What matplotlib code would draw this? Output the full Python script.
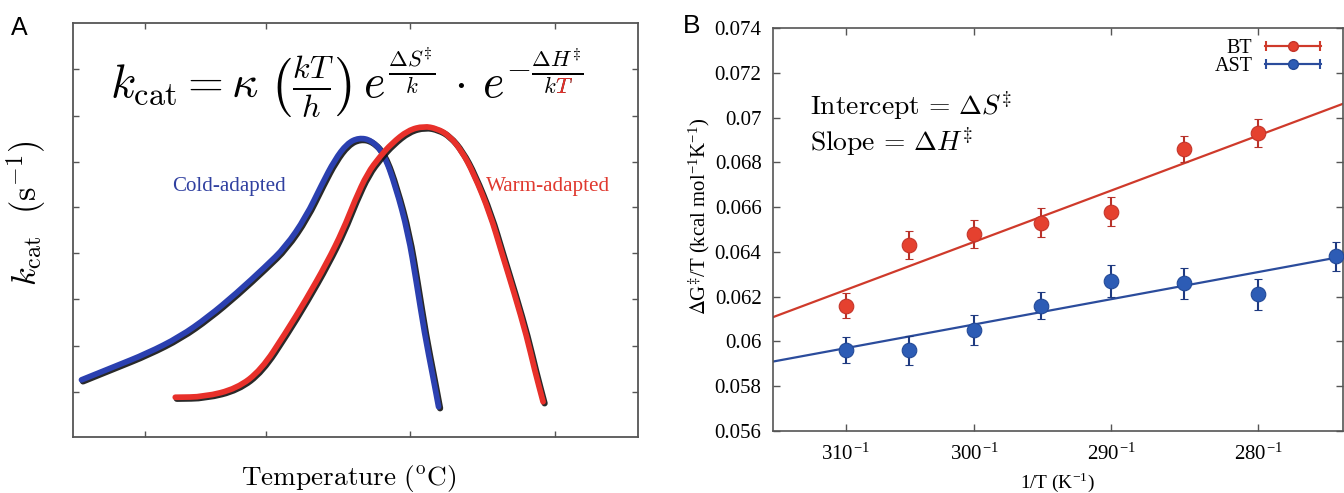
import numpy as np
import matplotlib
matplotlib.use("Agg")
import matplotlib.pyplot as plt
from matplotlib.font_manager import FontProperties
from matplotlib.textpath import TextToPath
from matplotlib.mathtext import MathTextParser
from matplotlib.transforms import ScaledTranslation, IdentityTransform
from matplotlib.legend_handler import HandlerErrorbar
from matplotlib.container import ErrorbarContainer
from matplotlib.path import Path
from matplotlib.patches import PathPatch, Rectangle
import warnings
warnings.filterwarnings("ignore")

# ---------------- Panel A data (schematic, arbitrary units) ----------------
cold_temp = [1.5, 7.3, 13.1, 18.9, 23.9, 28.9, 34.0, 37.6, 41.2, 44.1, 46.3,
             48.5, 50.6, 52.8, 55.0, 57.1, 59.3, 60.8, 62.2, 63.7, 64.7]
cold_kcat = [13.8, 17.0, 20.2, 24.2, 29.0, 34.7, 41.1, 45.9, 53.1, 61.2, 66.9,
             70.9, 72.3, 71.7, 68.5, 60.5, 49.3, 37.2, 25.1, 14.6, 7.3]
warm_temp = [18.1, 23.2, 29.0, 33.3, 37.6, 41.2, 44.9, 47.8, 49.9, 52.1, 54.3,
             56.4, 59.3, 62.1, 64.4, 66.5, 68.7, 70.9, 73.8, 75.9, 78.1, 80.3,
             81.7, 83.2]
warm_kcat = [9.6, 9.7, 11.7, 16.2, 25.1, 33.1, 42.0, 50.0, 57.2, 63.7, 67.7,
             70.9, 74.1, 75.1, 74.5, 72.9, 69.3, 63.7, 54.0, 44.4, 34.7, 24.3,
             16.2, 8.5]
a_xticks = [12.7, 34.2, 59.6, 85.3]
a_yticks = [10.9, 22.0, 33.3, 44.4, 55.6, 66.4, 77.6, 88.8]

# ---------------- Panel B data ----------------
bt_T = [310, 305, 300, 295, 290, 285, 280]
bt_val = [0.0616, 0.0643, 0.0648, 0.0653, 0.0658, 0.0686, 0.0693]
bt_err = [0.00055, 0.00063, 0.00062, 0.00065, 0.00065, 0.00057, 0.00063]
ast_T = [310, 305, 300, 295, 290, 285, 280, 275]
ast_val = [0.0596, 0.0596, 0.0605, 0.0616, 0.0627, 0.0626, 0.0621, 0.0638]
ast_err = [0.00058, 0.00063, 0.00068, 0.00060, 0.00071, 0.00070, 0.00070, 0.00065]
bt_fit_T = [310, 280]
bt_fit_val = [0.0623, 0.0692]
ast_fit_T = [310, 280]
ast_fit_val = [0.0597, 0.0631]
b_xtick_T = [310, 300, 290, 280]
b_xtick_labels = [r"310$^{\mathregular{-1}}$", r"300$^{\mathregular{-1}}$",
                  r"290$^{\mathregular{-1}}$", r"280$^{\mathregular{-1}}$"]
b_yticks = [0.056, 0.058, 0.060, 0.062, 0.064, 0.066, 0.068, 0.070, 0.072, 0.074]
b_ytick_labels = ["0.056", "0.058", "0.06", "0.062", "0.064", "0.066",
                  "0.068", "0.07", "0.072", "0.074"]
b_xlim = (3.1647e-3, 3.6426e-3)
b_ylim = (0.056, 0.074)

# ---------------- style ----------------
W, H, DPI = 1344, 493, 100
plt.rcParams["font.family"] = ["Liberation Serif", "DejaVu Serif"]
plt.rcParams["mathtext.fontset"] = "cm"

BLUE_A = "#2b40b0"
RED_A = "#e8302a"
RED_B = "#e5412f"
RED_LINE = "#cf3a2b"
RED_ERR = "#b8322a"
BLUE_B = "#2d5cb5"
BLUE_LINE = "#2b4c9c"
BLUE_ERR = "#1f3a80"
SPINE = "#555555"

_ttp = TextToPath()


def fit_fs(s, target_px, family="Liberation Serif", math="cm"):
    prop = FontProperties(family=family, size=10, math_fontfamily=math)
    w, h, d = _ttp.get_text_width_height_descent(s, prop, ismath=("$" in s))
    return 10.0 * (target_px * 72.0 / DPI) / w


def fxp(px):
    return px / W


def fyp(py):
    return 1 - py / H


def smooth_path(xs, ys):
    pts = np.column_stack([xs, ys]).astype(float)
    verts = [pts[0], (pts[0] + pts[1]) / 2]
    codes = [Path.MOVETO, Path.LINETO]
    for i in range(1, len(pts) - 1):
        verts += [pts[i], (pts[i] + pts[i + 1]) / 2]
        codes += [Path.CURVE3, Path.CURVE3]
    verts.append(pts[-1])
    codes.append(Path.LINETO)
    return Path(verts, codes)


fig = plt.figure(figsize=(W / DPI, H / DPI), dpi=DPI)

# ================= Panel A =================
axA = fig.add_axes([fxp(73), fyp(437), (638 - 73) / W, (437 - 23) / H])
axA.set_xlim(0, 100)
axA.set_ylim(0, 100)
for sp in axA.spines.values():
    sp.set_color(SPINE)
    sp.set_linewidth(1.3)
axA.set_xticks(a_xticks)
axA.set_yticks(a_yticks)
axA.tick_params(direction="in", length=4, width=1, color=SPINE,
                top=True, right=True, labelbottom=False, labelleft=False)

shadow_tr = axA.transData + ScaledTranslation(1.1 / 72, -1.1 / 72, fig.dpi_scale_trans)
for xs, ys, col in [(cold_temp, cold_kcat, BLUE_A), (warm_temp, warm_kcat, RED_A)]:
    p = smooth_path(xs, ys)
    axA.add_patch(PathPatch(p, fill=False, ec="#111111", lw=4.5, alpha=0.9,
                            capstyle="round", joinstyle="round", transform=shadow_tr))
    axA.add_patch(PathPatch(p, fill=False, ec=col, lw=4.1,
                            capstyle="round", joinstyle="round"))

s_cold = "Cold-adapted"
s_warm = "Warm-adapted"
fig.text(fxp(229), fyp(187), s_cold, color="#3040a0", ha="center", va="center",
         fontsize=fit_fs(s_cold, 113))
fig.text(fxp(548), fyp(187), s_warm, color="#e0392f", ha="center", va="center",
         fontsize=fit_fs(s_warm, 124))

formula = (r"$k_{\mathrm{cat}} = \kappa\;\left(\frac{kT}{h}\right)\,"
           r"e^{\frac{\Delta S^{\ddagger}}{k}}\,\cdot\,e^{-\frac{\Delta H^{\ddagger}}{kT}}$")
FS_F = fit_fs(formula, 478)
ANCX, ANCY = 110, 97
fig.text(fxp(ANCX), fyp(ANCY), formula, fontsize=FS_F, ha="left", va="baseline",
         math_fontfamily="cm")
# red copy of the formula, clipped to the final (denominator) T only
parser = MathTextParser("path")
res = parser.parse(formula, DPI, FontProperties(size=FS_F, math_fontfamily="cm"))
g = None
for gl in reversed(res.glyphs):
    if gl[2] == ord("T"):
        g = gl
        break
if g is None:
    g = res.glyphs[-1]
fsT_px = g[1] * DPI / 72.0
penx = ANCX + g[3] + 1
basey = (H - ANCY) + g[4]
clip = Rectangle((penx + 0.04 * fsT_px, basey - 0.25 * fsT_px),
                 0.9 * fsT_px, 0.95 * fsT_px, transform=IdentityTransform())
tred = fig.text(fxp(ANCX), fyp(ANCY), formula, fontsize=FS_F, ha="left",
                va="baseline", math_fontfamily="cm", color=RED_A)
tred.set_clip_path(clip)

s_temp = r"$\mathrm{Temperature}\ (^{\mathrm{o}}\mathrm{C})$"
fig.text(fxp(349), fyp(478), s_temp, ha="center", va="center",
         fontsize=fit_fs(s_temp, 216))
s_ylA = r"$k_{\mathrm{cat}}\ \ (\mathrm{s}^{-1})$"
fig.text(fxp(26), fyp(213), s_ylA, ha="center", va="center", rotation=90,
         fontsize=fit_fs(s_ylA, 147))

fig.text(fxp(11), fyp(35), "A", family="Liberation Sans", fontsize=18,
         ha="left", va="baseline")
fig.text(fxp(683), fyp(33), "B", family="Liberation Sans", fontsize=19,
         ha="left", va="baseline")

# ================= Panel B =================
axB = fig.add_axes([fxp(772.7), fyp(431), (1343.3 - 772.7) / W, (431 - 28) / H])
axB.set_xlim(*b_xlim)
axB.set_ylim(*b_ylim)
for sp in axB.spines.values():
    sp.set_color(SPINE)
    sp.set_linewidth(1.2)

tick_fs = fit_fs("0.056", 47)
axB.set_yticks(b_yticks)
axB.set_yticklabels(b_ytick_labels)
axB.set_xticks([1.0 / t for t in b_xtick_T])
axB.set_xticklabels(b_xtick_labels)
axB.tick_params(direction="in", length=5, width=1, color=SPINE, top=True,
                right=True, labelsize=tick_fs, pad=8)
axB.tick_params(axis="x", pad=9)

# fit lines
for fT, fv, col in [(bt_fit_T, bt_fit_val, RED_LINE), (ast_fit_T, ast_fit_val, BLUE_LINE)]:
    coef = np.polyfit([1.0 / t for t in fT], fv, 1)
    xs = np.array(b_xlim)
    axB.plot(xs, np.polyval(coef, xs), color=col, lw=1.6, zorder=2)

axB.errorbar([1.0 / t for t in bt_T], bt_val, yerr=bt_err, fmt="o", ms=10.5,
             mfc=RED_B, mec="#c4352a", mew=0.8, ecolor=RED_ERR, elinewidth=1.5,
             capsize=2.9, capthick=1.5, zorder=3)
axB.errorbar([1.0 / t for t in ast_T], ast_val, yerr=ast_err, fmt="o", ms=10.5,
             mfc=BLUE_B, mec="#234a98", mew=0.8, ecolor=BLUE_ERR, elinewidth=1.5,
             capsize=2.9, capthick=1.5, zorder=3)

# legend proxies (horizontal error-bar style)
h_bt = axB.errorbar([np.nan], [np.nan], xerr=[1.0], fmt="-o", color=RED_LINE,
                    mfc=RED_B, mec="#c4352a", ms=10, lw=1.5, ecolor=RED_LINE,
                    elinewidth=1.5, capsize=3.5, capthick=1.5)
h_ast = axB.errorbar([np.nan], [np.nan], xerr=[1.0], fmt="-o", color=BLUE_LINE,
                     mfc=BLUE_B, mec="#234a98", ms=10, lw=1.5, ecolor=BLUE_LINE,
                     elinewidth=1.5, capsize=3.5, capthick=1.5)
leg_fs = 14.5
axB.legend([h_bt, h_ast], ["BT", "AST"], loc="upper right",
           bbox_to_anchor=(fxp(1321), fyp(39)), bbox_transform=fig.transFigure,
           frameon=False, markerfirst=False, numpoints=1, handlelength=2.8,
           handletextpad=0.6, labelspacing=-0.05, borderpad=0, borderaxespad=0,
           fontsize=leg_fs, markerscale=0.7,
           handler_map={ErrorbarContainer: HandlerErrorbar(xerr_size=1.35)})

s_int = r"$\mathrm{Intercept}\,=\,\Delta S^{\ddagger}$"
s_slope = r"$\mathrm{Slope}\,=\,\Delta H^{\ddagger}$"
fs_int = fit_fs(s_int, 203)
fig.text(fxp(810), fyp(115), s_int, fontsize=fs_int, ha="left", va="baseline")
fig.text(fxp(810), fyp(151), s_slope, fontsize=fs_int, ha="left", va="baseline")

s_ylB = r"$\Delta$G$^{\ddagger}$/T (kcal mol$^{\mathregular{-1}}$K$^{\mathregular{-1}}$)"
fig.text(fxp(699), fyp(216), s_ylB, rotation=90, ha="center", va="center",
         fontsize=fit_fs(s_ylB, 197, math="stix"), math_fontfamily="stix")
s_xlB = r"1/T (K$^{\mathregular{-1}}$)"
fig.text(fxp(1058), fyp(482), s_xlB, ha="center", va="center",
         fontsize=fit_fs(s_xlB, 74, math="stix"), math_fontfamily="stix")

fig.savefig("out.png", dpi=DPI)
